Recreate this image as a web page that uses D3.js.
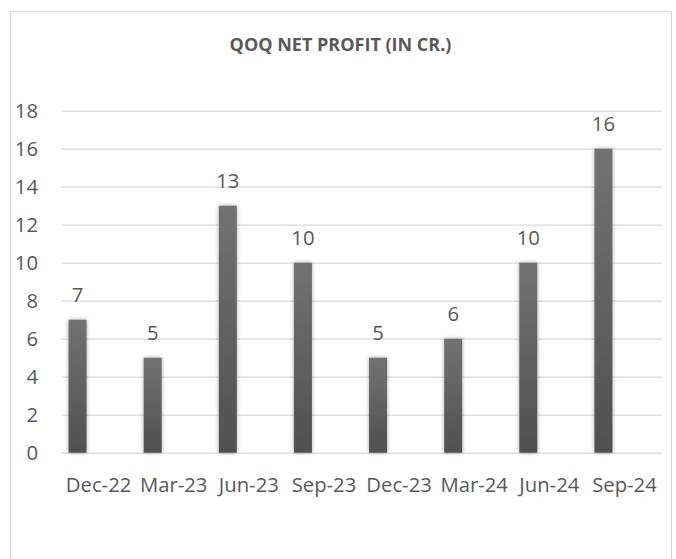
<!DOCTYPE html>
<html>
<head>
<meta charset="utf-8">
<script src="https://cdn.jsdelivr.net/npm/d3@7/dist/d3.min.js"></script>
<style>
  html, body { margin: 0; padding: 0; background: #fff; }
  svg { display: block; }
</style>
</head>
<body>
<svg id="chart" width="676" height="559"></svg>
<script>
const title = "QOQ NET PROFIT (IN CR.)";
const categories = ["Dec-22", "Mar-23", "Jun-23", "Sep-23", "Dec-23", "Mar-24", "Jun-24", "Sep-24"];
const values = [7, 5, 13, 10, 5, 6, 10, 16];
const yTicks = [0, 2, 4, 6, 8, 10, 12, 14, 16, 18];

const svg = d3.select("#chart");
const W = 676, H = 559;
const textColor = "#595959";
const gridColor = "#d9d9d9";
const font = "'Open Sans', Lato, sans-serif";
const fs = 20.3;

svg.append("rect").attr("x", 0).attr("y", 0).attr("width", W).attr("height", H).attr("fill", "#fff");

// chart border
svg.append("rect")
  .attr("x", 10.5).attr("y", 11.5)
  .attr("width", 661).attr("height", 600)
  .attr("fill", "none").attr("stroke", gridColor).attr("stroke-width", 1.2);

const defs = svg.append("defs");
const grad = defs.append("linearGradient").attr("id", "barGrad")
  .attr("x1", 0).attr("y1", 0).attr("x2", 0).attr("y2", 1);
grad.append("stop").attr("offset", "0%").attr("stop-color", "#727272");
grad.append("stop").attr("offset", "100%").attr("stop-color", "#505050");

const filt = defs.append("filter").attr("id", "shadow")
  .attr("x", "-100%").attr("y", "-10%").attr("width", "300%").attr("height", "120%");
filt.append("feGaussianBlur").attr("in", "SourceAlpha").attr("stdDeviation", 2.2).attr("result", "blur");
filt.append("feComponentTransfer").attr("in", "blur").attr("result", "sh")
  .append("feFuncA").attr("type", "linear").attr("slope", 0.35);
const merge = filt.append("feMerge");
merge.append("feMergeNode").attr("in", "sh");
merge.append("feMergeNode").attr("in", "SourceGraphic");

const plotLeft = 61, plotRight = 662;
const y = d3.scaleLinear().domain([0, 18]).range([452.7, 110.7]);
const x = d3.scaleBand().domain(categories).range([plotLeft, plotRight]).padding(0);
const barOffset = -21;
const barWidth = 18;

// gridlines
const yAxis = d3.axisLeft(y).tickValues(yTicks).tickSize(-(plotRight - plotLeft)).tickPadding(23);
const gy = svg.append("g").attr("transform", `translate(${plotLeft},0)`).call(yAxis);
gy.select(".domain").remove();
gy.selectAll(".tick line").attr("stroke", gridColor).attr("stroke-width", 1.3);
gy.selectAll(".tick text")
  .attr("fill", textColor).attr("font-family", font).attr("font-size", fs)
  .attr("dy", "0.35em");

// bars
svg.append("g").selectAll("rect").data(values).join("rect")
  .attr("x", (d, i) => x(categories[i]) + x.bandwidth() / 2 + barOffset - barWidth / 2)
  .attr("y", d => y(d))
  .attr("width", barWidth)
  .attr("height", d => y(0) - y(d))
  .attr("fill", "url(#barGrad)")
  .attr("filter", "url(#shadow)");

// value labels
svg.append("g").selectAll("text").data(values).join("text")
  .attr("x", (d, i) => x(categories[i]) + x.bandwidth() / 2 + barOffset)
  .attr("y", d => y(d) - 25)
  .attr("dy", "0.35em")
  .attr("text-anchor", "middle")
  .attr("fill", textColor).attr("font-family", font).attr("font-size", fs)
  .text(d => d);

// x axis labels
const xAxis = d3.axisBottom(x).tickSize(0).tickPadding(0);
const gx = svg.append("g").attr("transform", `translate(0,${y(0)})`).call(xAxis);
gx.select(".domain").remove();
gx.selectAll(".tick text")
  .attr("fill", textColor).attr("font-family", font).attr("font-size", fs)
  .attr("y", 39).attr("dy", 0);

// title
svg.append("text")
  .attr("x", 340.5).attr("y", 45)
  .attr("dy", "0.35em")
  .attr("text-anchor", "middle")
  .attr("fill", textColor).attr("font-family", font).attr("font-weight", "bold")
  .attr("font-size", 18)
  .text(title);
</script>
</body>
</html>
